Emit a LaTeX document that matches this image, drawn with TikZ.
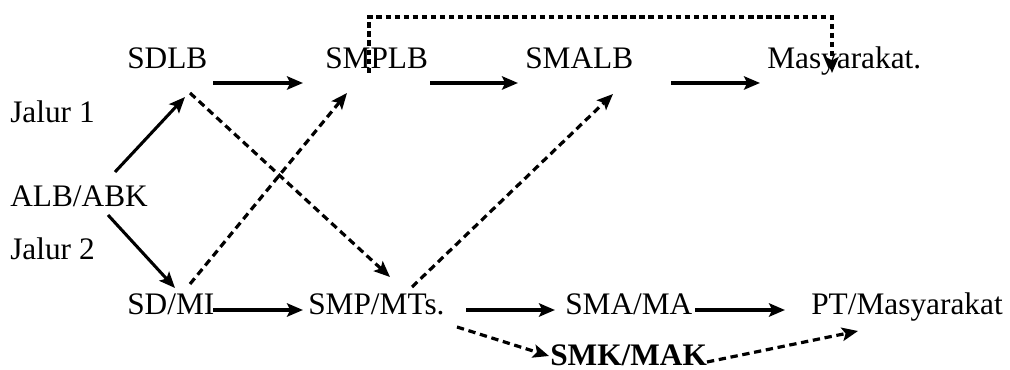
\documentclass[tikz,border=0pt]{standalone}
\usepackage{fontspec}
\setmainfont{Liberation Serif}
\usetikzlibrary{arrows.meta,calc}
\begin{document}
\begin{tikzpicture}[x=0.75pt,y=-0.75pt,
  lbl/.style={anchor=base west,inner sep=0pt,font=\fontsize{23.5pt}{28pt}\selectfont},
  arr/.style={line width=2.8pt,-{Stealth[length=12pt,width=10pt,inset=2.5pt]}},
  darr/.style={line width=2.4pt,dash pattern=on 5.5pt off 3.5pt,-{Stealth[length=12pt,width=10pt,inset=2.5pt]}},
  darrtop/.style={line width=2.4pt,dash pattern=on 4pt off 2.8pt,-{Stealth[length=12pt,width=10pt,inset=2.5pt]}}]
\useasboundingbox (0,0) rectangle (1010,370);
\node[lbl] (sdlb) at (127,69) {SDLB};
\node[lbl] (smplb) at (325,69) {SMPLB};
\node[lbl] (smalb) at (525,69) {SMALB};
\node[lbl] (mas) at (767,69) {Masyarakat.};
\node[lbl] (jalur1) at (10,123) {Jalur 1};
\node[lbl] (alb) at (10,207) {ALB/ABK};
\node[lbl] (jalur2) at (10,260) {Jalur 2};
\node[lbl] (sdmi) at (127,315) {SD/MI};
\node[lbl] (smp) at (308,315) {SMP/MTs.};
\node[lbl] (sma) at (565,315) {SMA/MA};
\node[lbl] (pt) at (811,315) {PT/Masyarakat};
\node[lbl,font=\fontsize{23.5pt}{28pt}\selectfont\bfseries] (smk) at (550,365) {SMK/MAK};
% solid arrows
\draw[arr] ($(sdlb.base west)+(86,14)$) -- ($(smplb.base west)+(-22,14)$);
\draw[arr] ($(smplb.base west)+(105,14)$) -- ($(smalb.base west)+(-7,14)$);
\draw[arr] ($(smalb.base west)+(146,14)$) -- ($(mas.base west)+(-7,14)$);
\draw[arr] ($(sdmi.base west)+(86,-5)$) -- ($(smp.base west)+(-5,-5)$);
\draw[arr] ($(smp.base west)+(158,-5)$) -- ($(sma.base west)+(-10,-5)$);
\draw[arr] ($(sma.base west)+(130,-5)$) -- ($(pt.base west)+(-26,-5)$);
\draw[arr,line width=2.3pt] ($(alb.base west)+(105,-35)$) -- ($(sdlb.base west)+(58,28)$);
\draw[arr,line width=2.3pt] ($(alb.base west)+(98,8)$) -- ($(sdmi.base west)+(48,-27)$);
% dashed arrows
\draw[darr] ($(sdlb.base west)+(63,24)$) -- ($(smp.base west)+(82,-38)$);
\draw[darr] ($(sdmi.base west)+(63,-31)$) -- ($(smplb.base west)+(22,24)$);
\draw[darr] ($(smp.base west)+(104,-28)$) -- ($(smalb.base west)+(88,25)$);
\draw[darr] ($(smp.base west)+(149,12)$) -- ($(smk.base west)+(-1,-9)$);
\draw[darr] ($(smk.base west)+(157,-3)$) -- ($(pt.base west)+(47,16)$);
\draw[darrtop] ($(smplb.base west)+(44,4)$) -- ++(0,-56) -| ($(mas.base west)+(65,4)$);
\end{tikzpicture}
\end{document}
